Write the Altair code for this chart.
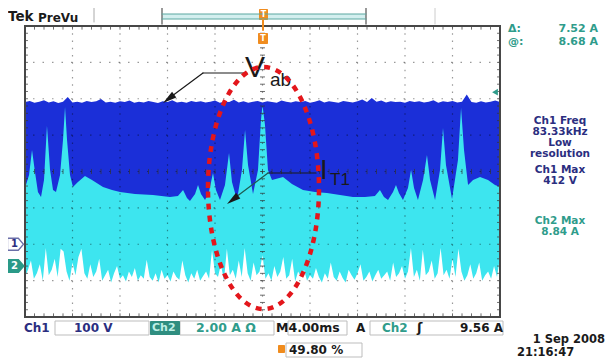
import altair as alt
import numpy as np
import pandas as pd

# ---------------- values ----------------
time_domain_ms = [-20, 20]      # M 4.00 ms/div, 10 divisions, trigger at the centre
ch1_domain_v = [-200, 600]      # Ch1 100 V/div, ground marker "1" two divisions below centre
ch2_domain_a = [-2.8, 13.2]     # Ch2 2.00 A/div, ground marker "2" 2.6 divisions below centre
div_domain = [-4, 4]

# Ch1 (V_ab): upper edge of the dark-blue band, volts, one value every 0.4 ms
ch1_top_v = [
    391, 394, 389, 392, 396, 390, 393, 388, 392, 405, 390, 392, 389, 394, 391, 393, 399, 390, 392, 389,
    393, 391, 395, 389, 392, 390, 394, 391, 388, 393, 391, 396, 390, 392, 389, 394, 391, 393, 390, 392,
    395, 389, 392, 391, 397, 390, 393, 389, 392, 394, 390, 393, 391, 389, 395, 392, 390, 393, 391, 394,
    389, 392, 396, 390, 393, 391, 389, 394, 392, 390, 393, 398, 391, 402, 392, 395, 390, 393, 391, 392,
    389, 394, 391, 393, 390, 392, 396, 389, 393, 391, 394, 390, 392, 412, 391, 389, 393, 390, 392, 395, 391,
]

# Ch2 (I_T1): upper edge of the cyan band (current pulses)
ch2_peak_t_ms = [
    -20.0, -19.66, -19.41, -19.16, -18.91, -18.65, -18.4, -18.15, -17.89, -17.64,
    -17.39, -17.05, -16.8, -16.63, -16.46, -16.21, -15.96, -15.54, -14.95, -14.36,
    -13.43, -12.67, -12.0, -10.74, -9.22, -7.79, -7.12, -6.69, -6.36, -6.11,
    -5.68, -5.43, -5.18, -4.84, -4.51, -4.17, -3.92, -3.58, -3.16, -2.82,
    -2.57, -2.15, -1.73, -1.47, -1.22, -0.8, -0.38, -0.13, 0.0, 0.21,
    0.46, 0.8, 1.73, 2.48, 3.41, 4.42, 5.43, 6.53, 7.62, 8.63,
    9.47, 9.89, 10.23, 10.57, 10.99, 11.24, 11.49, 11.83, 12.25, 12.51,
    12.76, 13.09, 13.52, 13.85, 14.11, 14.53, 14.95, 15.2, 15.45, 15.96,
    16.46, 16.72, 16.97, 17.31, 17.73, 18.32, 18.99, 19.58, 20.0,
]
ch2_peak_a = [
    4.29, 5.01, 6.38, 5.17, 4.07, 3.80, 4.73, 7.71, 5.28, 4.18,
    4.07, 5.01, 6.93, 8.74, 6.93, 5.01, 4.35, 4.62, 4.95, 4.73,
    4.35, 4.18, 4.07, 3.96, 3.91, 3.80, 3.85, 4.18, 3.74, 3.58,
    3.96, 4.46, 3.96, 3.63, 4.07, 5.12, 4.18, 3.63, 4.46, 6.22,
    4.62, 3.63, 5.28, 7.48, 5.56, 3.96, 5.28, 8.03, 8.84, 7.75,
    5.28, 4.73, 4.90, 4.51, 4.18, 4.07, 4.02, 3.91, 3.80, 3.80,
    3.85, 4.18, 3.80, 3.63, 4.07, 4.46, 4.02, 3.63, 4.29, 5.28,
    4.29, 3.63, 4.73, 6.11, 4.73, 3.63, 5.28, 7.59, 5.56, 3.69,
    5.83, 8.69, 6.38, 4.46, 4.73, 4.90, 4.73, 4.46, 4.35,
]

# Ch2: noisy lower edge of the cyan band, amps, one value every 0.25 ms
ch2_floor_a = [
    -0.6, -0.2, 0.3, -0.7, -0.4, 0.1, -0.8, 1.0, -0.5, -0.2, 0.4, -0.6, 0.95, 0.8, -0.3, -0.8, 0.2, -0.5, 0.5, 0.95, -0.4,
    -0.7, 0.1, -0.6, -0.3, 0.4, -0.8, -0.5, -0.2, -0.9, -0.4, 0.0, -0.7, -0.5, -0.85, -0.3, -0.6, -0.1, -0.8, -0.5, -0.7,
    0.35, -0.6, -0.8, -0.4, -0.9, -0.2, -0.7, -0.5, -0.85, -0.3, -0.6, -0.75, 0.3, -0.5, -0.9, -0.4, -0.7, -0.2, -0.8, -0.55,
    -0.3, -0.7, 0.9, -0.4, -0.6, 0.1, -0.8, 0.95, -0.5, -0.2, -0.7, 0.3, -0.6, 1.0, -0.4, -0.8, 0.2, -0.5, -0.3, 0.6,
    -0.7, -0.4, -0.8, 0.0, -0.6, -0.3, 0.5, -0.7, -0.5, 0.4, -0.85, -0.3, -0.6, -0.2, -0.8, -0.5, -0.7, -0.1, -0.6, -0.9,
    -0.4, -0.7, 0.2, -0.6, -0.8, -0.3, -0.65, -0.9, -0.2, -0.5, -0.75, -0.4, 0.1, -0.8, -0.6, -0.3, -0.85, -0.5, -0.2, -0.7,
    -0.5, -0.3, -0.8, 0.2, -0.6, -0.4, 0.0, -0.7, -0.3, 1.0, -0.6, -0.2, -0.8, 0.9, -0.5, -0.3, 0.3, -0.7, -0.4, 1.0,
    -0.5, -0.2, -0.7, 0.4, -0.6, 0.95, -0.3, -0.8, -0.5, 0.1, -0.7, -0.4, 0.2, -0.8, -0.5, -0.3, -0.7, 0.0, -0.6, 0.5,
]
ch2_band_split_a = 1.05
ch2_trigger_a = 9.56

# ---------------- styling ----------------
BLUE = "#1b2fd8"
CYAN = "#3de5ef"
NAVY = "#2b2e80"
TEAL = "#2f9c8b"
ORANGE = "#f08c1e"
RED = "#e3161b"
INK = "#1a1a1a"
W, H = 475, 291
OX, OY = 25, 26   # page position of the graticule

xs = alt.Scale(domain=time_domain_ms, nice=False, zero=False)
vs = alt.Scale(domain=ch1_domain_v, nice=False, zero=False)
as_ = alt.Scale(domain=ch2_domain_a, nice=False, zero=False)
ds = alt.Scale(domain=div_domain, nice=False, zero=False)


def XT(f):
    return alt.X(f, type="quantitative", scale=xs, axis=None)


def PX(f="x"):
    return alt.X(f, type="quantitative", scale=None, axis=None)


def PY(f="y"):
    return alt.Y(f, type="quantitative", scale=None, axis=None)


layers = []

# --- Ch1 dark blue band
ch1 = pd.DataFrame({"t": np.linspace(-20, 20, len(ch1_top_v)), "v": ch1_top_v, "zero": 0.0})
layers.append(alt.Chart(ch1).mark_area(color=BLUE, opacity=1).encode(
    x=XT("t"), y=alt.Y("v:Q", scale=vs, axis=None), y2="zero:Q"))

# --- Ch2 cyan band (upper part with the pulses, lower noisy part)
ch2u = pd.DataFrame({"t": ch2_peak_t_ms, "a": ch2_peak_a, "split": ch2_band_split_a})
layers.append(alt.Chart(ch2u).mark_area(color=CYAN, opacity=1).encode(
    x=XT("t"), y=alt.Y("a:Q", scale=as_, axis=None), y2="split:Q"))
ch2l = pd.DataFrame({"t": np.linspace(-20, 20, len(ch2_floor_a)), "a": ch2_floor_a, "split": ch2_band_split_a})
layers.append(alt.Chart(ch2l).mark_area(color=CYAN, opacity=1).encode(
    x=XT("t"), y=alt.Y("split:Q", scale=as_, axis=None), y2="a:Q"))

# --- graticule
hgrid = pd.DataFrame({"d": np.arange(-3, 4)})
layers.append(alt.Chart(hgrid).mark_rule(color="black", opacity=0.4, strokeDash=[1.5, 8], strokeWidth=1.2).encode(
    y=alt.Y("d:Q", scale=ds, axis=None)))
vgrid = pd.DataFrame({"t": np.arange(-16, 17, 4)})
layers.append(alt.Chart(vgrid).mark_rule(color="black", opacity=0.4, strokeDash=[1.5, 5.775], strokeWidth=1.2).encode(
    x=XT("t")))

rows = []
for t in np.arange(-20, 20.001, 0.8):
    rows += [(t, t, 4, 3.9), (t, t, -4, -3.9), (t, t, -0.07, 0.07)]
for d in np.arange(-4, 4.001, 0.2):
    rows += [(-20, -19.75, d, d), (20, 19.75, d, d), (-0.21, 0.21, d, d)]
ticks = pd.DataFrame(rows, columns=["x0", "x1", "y0", "y1"])
layers.append(alt.Chart(ticks).mark_rule(color="#333", opacity=0.7, strokeWidth=1).encode(
    x=XT("x0"), x2="x1:Q", y=alt.Y("y0:Q", scale=ds, axis=None), y2="y1:Q"))

frame = pd.DataFrame({"x0": [-20], "x1": [20], "y0": [-4], "y1": [4]})
layers.append(alt.Chart(frame).mark_rect(fillOpacity=0, stroke="#474747", strokeWidth=2).encode(
    x=XT("x0"), x2="x1:Q", y=alt.Y("y0:Q", scale=ds, axis=None), y2="y1:Q"))


# --- layout helpers (page pixel positions -> plot pixel positions)
def px_df(rows, cols):
    df = pd.DataFrame(rows, columns=cols)
    for c in cols:
        if c.startswith("x"):
            df[c] = df[c] - OX
        elif c.startswith("y"):
            df[c] = df[c] - OY
    return df


boxes = px_df([(55, 321, 149, 335), (180, 321, 274, 335), (288, 321, 347, 335),
               (370, 321, 503, 335), (286, 343, 362, 357)], ["x0", "y0", "x1", "y1"])
layers.append(alt.Chart(boxes).mark_rect(fillOpacity=0, stroke="#bdbdbd", strokeWidth=1).encode(
    x=PX("x0"), x2="x1:Q", y=PY("y0"), y2="y1:Q"))

fills = px_df([(150, 321, 180, 335, "#2f8e80"), (278, 345, 285, 353, ORANGE),
               (162, 14, 366, 19, "#d3efef"), (259, 9, 268, 20, ORANGE), (258, 33, 268, 44, ORANGE)],
              ["x0", "y0", "x1", "y1", "c"])
layers.append(alt.Chart(fills).mark_rect(cornerRadius=1).encode(
    x=PX("x0"), x2="x1:Q", y=PY("y0"), y2="y1:Q", color=alt.Color("c:N", scale=None)))

segs = px_df([(162, 7, 162, 24, "#777", 1.5), (366, 7, 366, 24, "#777", 1.5),
              (94, 4, 94, 22, "#aaa", 1), (435, 6, 435, 24, "#ccc", 1),
              (162, 14, 366, 14, "#5aa7a0", 1), (162, 19, 366, 19, "#5aa7a0", 1),
              (263, 20, 263, 30, ORANGE, 2),
              (247, 73, 203, 73, INK, 1.2), (203, 73, 168, 99, INK, 1.2),
              (316, 173, 268, 173, INK, 1.2), (268, 173, 232, 200, "#1d5a50", 1.2)],
             ["x0", "y0", "x1", "y1", "c", "w"])
layers.append(alt.Chart(segs).mark_rule(strokeCap="round").encode(
    x=PX("x0"), x2="x1:Q", y=PY("y0"), y2="y1:Q",
    color=alt.Color("c:N", scale=None), strokeWidth=alt.StrokeWidth("w:Q", scale=None)))

ARROW = "M 0 -1 L 0.5 1 L -0.5 1 Z"
heads = px_df([(168.6, 98.8), (232.6, 199.8)], ["x", "y"])
layers.append(alt.Chart(heads).mark_point(shape=ARROW, filled=True, size=196, angle=233, color=INK, opacity=1).encode(
    x=PX(), y=PY()))

# trigger level marker (Ch2, right edge) and channel ground markers (left)
trig = pd.DataFrame({"a": [ch2_trigger_a]})
layers.append(alt.Chart(trig).mark_point(shape="triangle-left", filled=True, size=45, color=TEAL, opacity=1).encode(
    x=alt.value(W - 5), y=alt.Y("a:Q", scale=as_, axis=None)))

PENT = "M -1 -0.75 L 0.35 -0.75 L 1 0 L 0.35 0.75 L -1 0.75 Z"
g1 = pd.DataFrame({"v": [0.0], "lab": ["1"]})
g2 = pd.DataFrame({"a": [0.0], "lab": ["2"]})
layers.append(alt.Chart(g1).mark_point(shape=PENT, size=256, filled=True, fill="white", stroke="#6b6fa8",
                                        strokeWidth=1.3, opacity=1).encode(
    x=alt.value(15.5 - OX), y=alt.Y("v:Q", scale=vs, axis=None)))
layers.append(alt.Chart(g1).mark_text(font="DejaVu Sans", fontWeight="bold", fontSize=10, color=NAVY, dx=-1).encode(
    x=alt.value(15.5 - OX), y=alt.Y("v:Q", scale=vs, axis=None), text="lab:N"))
layers.append(alt.Chart(g2).mark_point(shape=PENT, size=256, filled=True, fill="#2a9a88", stroke="#2a9a88",
                                        opacity=1).encode(
    x=alt.value(15.5 - OX), y=alt.Y("a:Q", scale=as_, axis=None)))
layers.append(alt.Chart(g2).mark_text(font="DejaVu Sans", fontWeight="bold", fontSize=10, color="white", dx=-1).encode(
    x=alt.value(15.5 - OX), y=alt.Y("a:Q", scale=as_, axis=None), text="lab:N"))


def text_layer(rows, align, font, weight):
    df = px_df(rows, ["text", "x", "y", "size", "color"])
    return alt.Chart(df).mark_text(align=align, baseline="middle", font=font, fontWeight=weight).encode(
        x=PX(), y=PY(), text="text:N",
        size=alt.Size("size:Q", scale=None), color=alt.Color("color:N", scale=None))


ch1_max = f"{max(ch1_top_v)} V"
ch2_max = f"{max(ch2_peak_a):.2f} A"

layers.append(text_layer([
    ("Tek", 8, 17, 13.5, INK), ("PreVu", 38, 18, 12, INK),
    ("Δ:", 508, 29, 11, TEAL), ("@:", 508, 42, 11, TEAL),
    ("Ch1", 24, 328, 12, NAVY), ("100 V", 74, 328, 12, NAVY),
    ("Ch2", 152, 328, 11, "#bff0e6"), ("2.00 A Ω", 196, 328, 12.5, TEAL),
    ("M4.00ms", 276, 328, 12.5, INK), ("A", 356, 328, 12, INK),
    ("Ch2", 382, 328, 12, TEAL), ("ʃ", 417, 328, 13, INK),
    ("49.80 %", 289, 350, 12, INK), ("21:16:47", 517, 352.5, 11.5, INK),
], "left", "DejaVu Sans", "bold"))
layers.append(text_layer([
    ("7.52 A", 598, 29, 11, TEAL), ("8.68 A", 598, 42, 11, TEAL),
    (f"{ch2_trigger_a:.2f} A", 503, 328, 12, INK), ("1 Sep  2008", 605, 340, 11.5, INK),
], "right", "DejaVu Sans", "bold"))
layers.append(text_layer([
    ("Ch1 Freq", 560, 121, 10.5, NAVY), ("83.33kHz", 560, 132, 10.5, NAVY),
    ("Low", 560, 143, 10.5, NAVY), ("resolution", 560, 154, 10.5, NAVY),
    ("Ch1 Max", 560, 170, 10.5, NAVY), (ch1_max, 560, 181, 10.5, NAVY),
    ("Ch2 Max", 560, 221, 10.5, TEAL), (ch2_max, 560, 232, 10.5, TEAL),
    ("T", 263.5, 15, 8, "white"), ("T", 263, 38.5, 8, "white"),
], "center", "DejaVu Sans", "bold"))
layers.append(text_layer([
    ("V", 245, 68, 30, INK), ("ab", 270, 80, 19, INK),
    ("I", 320, 171, 27, INK), ("T1", 330, 180, 17, INK),
], "left", "Liberation Sans", "normal"))

# dashed red ellipse around the region of interest
ELLIPSE = "M -0.4587 0 A 0.4587 1 0 1 1 0.4587 0 A 0.4587 1 0 1 1 -0.4587 0 Z"
ell = px_df([(263.5, 188)], ["x", "y"])
layers.append(alt.Chart(ell).mark_point(shape=ELLIPSE, size=58564, filled=False, color=RED, strokeWidth=4.5,
                                         strokeDash=[6, 6], opacity=1).encode(x=PX(), y=PY()))

chart = alt.layer(*layers).resolve_scale(
    x="independent", y="independent", color="independent", size="independent", strokeWidth="independent"
).properties(
    width=W, height=H,
    padding={"left": 17, "top": 18, "right": 106, "bottom": 42},
    autosize=alt.AutoSizeParams(type="none"),
    background="white",
).configure_view(strokeWidth=0)

chart.save("out.html", embed_options={"renderer": "svg", "actions": False})
